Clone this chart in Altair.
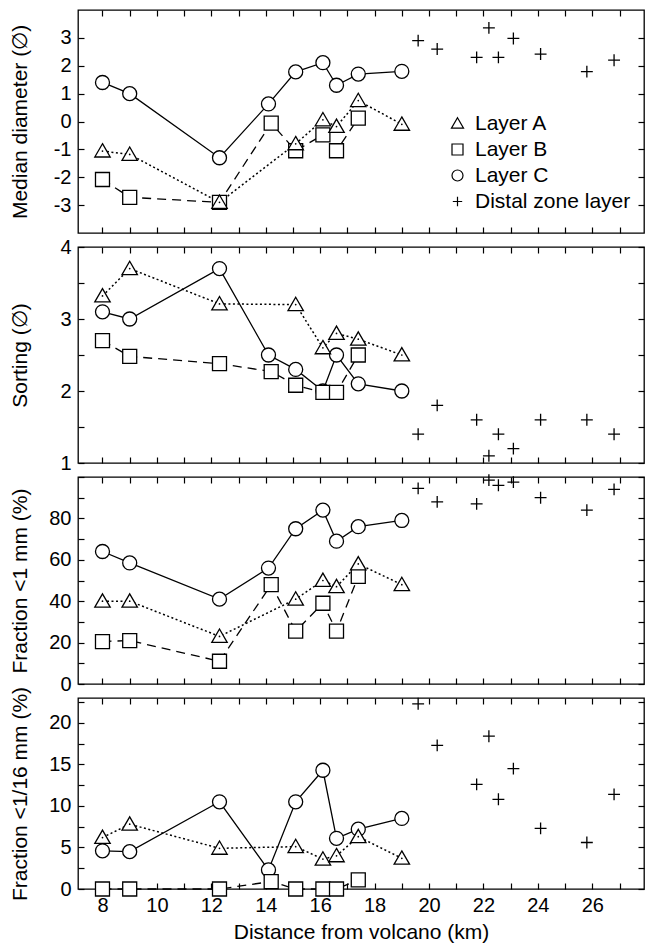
import altair as alt
import pandas as pd

# ---------------- data ----------------
A_X = [8.0, 9.0, 12.3, 15.1, 16.1, 16.6, 17.4, 19.0]
B_X = [8.0, 9.0, 12.3, 14.2, 15.1, 16.1, 16.6, 17.4]
C_X = [8.0, 9.0, 12.3, 14.1, 15.1, 16.1, 16.6, 17.4, 19.0]
D_X = [19.6, 20.3, 21.75, 22.2, 22.55, 23.1, 24.1, 25.8, 26.8]

median_A = [-1.06, -1.18, -2.9, -0.8, 0.06, -0.18, 0.75, -0.1]
median_B = [-2.08, -2.72, -2.9, -0.06, -1.05, -0.48, -1.05, 0.12]
median_C = [1.4, 1.0, -1.3, 0.63, 1.78, 2.11, 1.3, 1.7, 1.8]
median_D = [2.9, 2.6, 2.3, 3.36, 2.3, 2.98, 2.42, 1.79, 2.2]

sorting_A = [3.32, 3.7, 3.21, 3.2, 2.6, 2.8, 2.72, 2.5]
sorting_B = [2.7, 2.48, 2.38, 2.27, 2.08, 1.98, 1.98, 2.5]
sorting_C = [3.1, 3.0, 3.7, 2.5, 2.3, 2.0, 2.5, 2.1, 2.0]
sorting_D = [1.4, 1.8, 1.6, 1.1, 1.4, 1.2, 1.6, 1.6, 1.4]

frac1_A = [40, 40, 23, 41, 50, 47, 58, 48]
frac1_B = [20.5, 21, 11, 48, 25.5, 39, 25.5, 52]
frac1_C = [64, 58.5, 41, 56, 75, 84, 69, 76, 79]
frac1_D = [94.5, 88, 87, 98.5, 96, 97.5, 90, 84, 94]

frac16_A = [6.2, 7.8, 4.9, 5.1, 3.6, 4.0, 6.3, 3.7]
frac16_B = [0, 0, 0, 0.9, 0, 0, 0, 1.1]
frac16_C = [4.6, 4.5, 10.5, 2.3, 10.5, 14.3, 6.1, 7.2, 8.5]
frac16_D = [22.3, 17.3, 12.6, 18.4, 10.8, 14.5, 7.3, 5.6, 11.4]

LAYERS = ["Layer A", "Layer B", "Layer C", "Distal zone layer"]
X_TICKS = list(range(8, 28))
TITLES = ["Median diameter  (\u2205)", "Sorting  (\u2205)",
          "Fraction <1 mm (%)", "Fraction <1/16 mm (%)"]
X_TITLE = "Distance from volcano (km)"

# ---------------- styling ----------------
FONT = "Liberation Sans"
X_DOMAIN = [7.1, 27.9]
W = 566
TRI = "M0,-1.05L1.1,0.85L-1.1,0.85Z"
SQR = "M-1,-1L1,-1L1,1L-1,1Z"
PLUS = "M-0.85,0L0.85,0M0,-0.85L0,0.85"
SHAPE_RANGE = [TRI, SQR, "circle", PLUS]


def panel(vals, ydomain, yticks, ylabel_expr, title, height, bottom_labels, legend):
    A, B, C, D = vals
    dA = pd.DataFrame({"x": A_X, "y": A, "layer": LAYERS[0]})
    dB = pd.DataFrame({"x": B_X, "y": B, "layer": LAYERS[1]})
    dC = pd.DataFrame({"x": C_X, "y": C, "layer": LAYERS[2]})
    dD = pd.DataFrame({"x": D_X, "y": D, "layer": LAYERS[3]})
    pts = pd.concat([dC, dB, dA, dD], ignore_index=True)

    xs = alt.Scale(domain=X_DOMAIN, nice=False, zero=False)
    ys = alt.Scale(domain=ydomain, nice=False, zero=False)

    xaxis_kw = dict(orient="bottom", values=X_TICKS, offset=-6, tickSize=6,
                    domain=False, grid=False, labelFlush=False, labelPadding=6)
    if bottom_labels:
        xaxis_kw.update(labels=True, title=X_TITLE, titlePadding=6,
                        labelExpr="datum.value % 2 == 0 ? '' + datum.value : ''")
    else:
        xaxis_kw.update(labels=False, title=None)
    x_main = alt.X("x:Q", scale=xs, axis=alt.Axis(**xaxis_kw))
    y_main = alt.Y("y:Q", scale=ys, axis=alt.Axis(
        orient="left", values=yticks, offset=-6, tickSize=6, domain=False,
        grid=False, labelFlush=False, labelPadding=7, labelExpr=ylabel_expr,
        labelOverlap=False, title=title, titleX=-64, titleBaseline="middle"))
    x_top = alt.X("x:Q", scale=xs, axis=alt.Axis(
        orient="top", values=X_TICKS, offset=-6, tickSize=6, domain=False,
        grid=False, labels=False, title=None))
    y_right = alt.Y("y:Q", scale=ys, axis=alt.Axis(
        orient="right", values=yticks, offset=-6, tickSize=6, domain=False,
        grid=False, labels=False, title=None))
    x_none = alt.X("x:Q", scale=xs, axis=None)
    y_none = alt.Y("y:Q", scale=ys, axis=None)

    lineC = alt.Chart(dC).mark_line(color="black", strokeWidth=1.3).encode(x=x_main, y=y_main)
    lineB = alt.Chart(dB).mark_line(color="black", strokeWidth=1.3,
                                    strokeDash=[9, 6]).encode(x=x_none, y=y_none)
    lineA = alt.Chart(dA).mark_line(color="black", strokeWidth=1.5,
                                    strokeDash=[2, 2.5]).encode(x=x_none, y=y_none)
    points = alt.Chart(pts).mark_point(
        filled=False, color="black", fill="white", strokeWidth=1.3,
        opacity=1, size=196
    ).encode(
        x=x_top, y=y_right,
        shape=alt.Shape("layer:N", scale=alt.Scale(domain=LAYERS, range=SHAPE_RANGE),
                        legend=legend),
    )
    dots = alt.Chart(dA).mark_circle(size=3, color="black", opacity=1).encode(x=x_none, y=y_none)

    return alt.layer(lineC, lineB, lineA, points, dots).resolve_axis(
        x="independent", y="independent").properties(width=W, height=height)


legend1 = alt.Legend(orient="none", legendX=369, legendY=103, title=None,
                     labelFont=FONT, labelFontSize=21, labelColor="black",
                     symbolSize=121, symbolStrokeWidth=1.2,
                     labelOffset=7, rowPadding=4, padding=0)

p1 = panel((median_A, median_B, median_C, median_D), [-4, 4], list(range(-3, 4)),
           "datum.value < 0 ? '-' + abs(datum.value) : '' + datum.value",
           TITLES[0], 223, False, legend1)
p2 = panel((sorting_A, sorting_B, sorting_C, sorting_D), [1, 4],
           [1, 1.5, 2, 2.5, 3, 3.5, 4],
           "datum.value % 1 == 0 ? '' + datum.value : ''",
           TITLES[1], 216, False, None)
p3 = panel((frac1_A, frac1_B, frac1_C, frac1_D), [0, 100], list(range(0, 101, 10)),
           "datum.value % 20 == 0 && datum.value < 100 ? '' + datum.value : ''",
           TITLES[2], 207, False, None)
p4 = panel((frac16_A, frac16_B, frac16_C, frac16_D), [0, 23],
           [0, 2.5, 5, 7.5, 10, 12.5, 15, 17.5, 20, 22.5],
           "datum.value % 5 == 0 ? '' + datum.value : ''",
           TITLES[3], 191, True, None)

chart = alt.vconcat(p1, p2, p3, p4, spacing=14, bounds="flush").resolve_scale(
    shape="independent"
).configure(
    font=FONT, padding={"left": 8, "top": 8, "right": 0, "bottom": 4}, background="white"
).configure_view(
    stroke="black", strokeWidth=1.3
).configure_axis(
    labelFont=FONT, labelFontSize=20, labelColor="black",
    titleFont=FONT, titleFontSize=21, titleFontWeight="normal", titleColor="black",
    tickColor="black", tickWidth=1.2
)

chart.save("out.html", embed_options={"renderer": "svg", "actions": False})
